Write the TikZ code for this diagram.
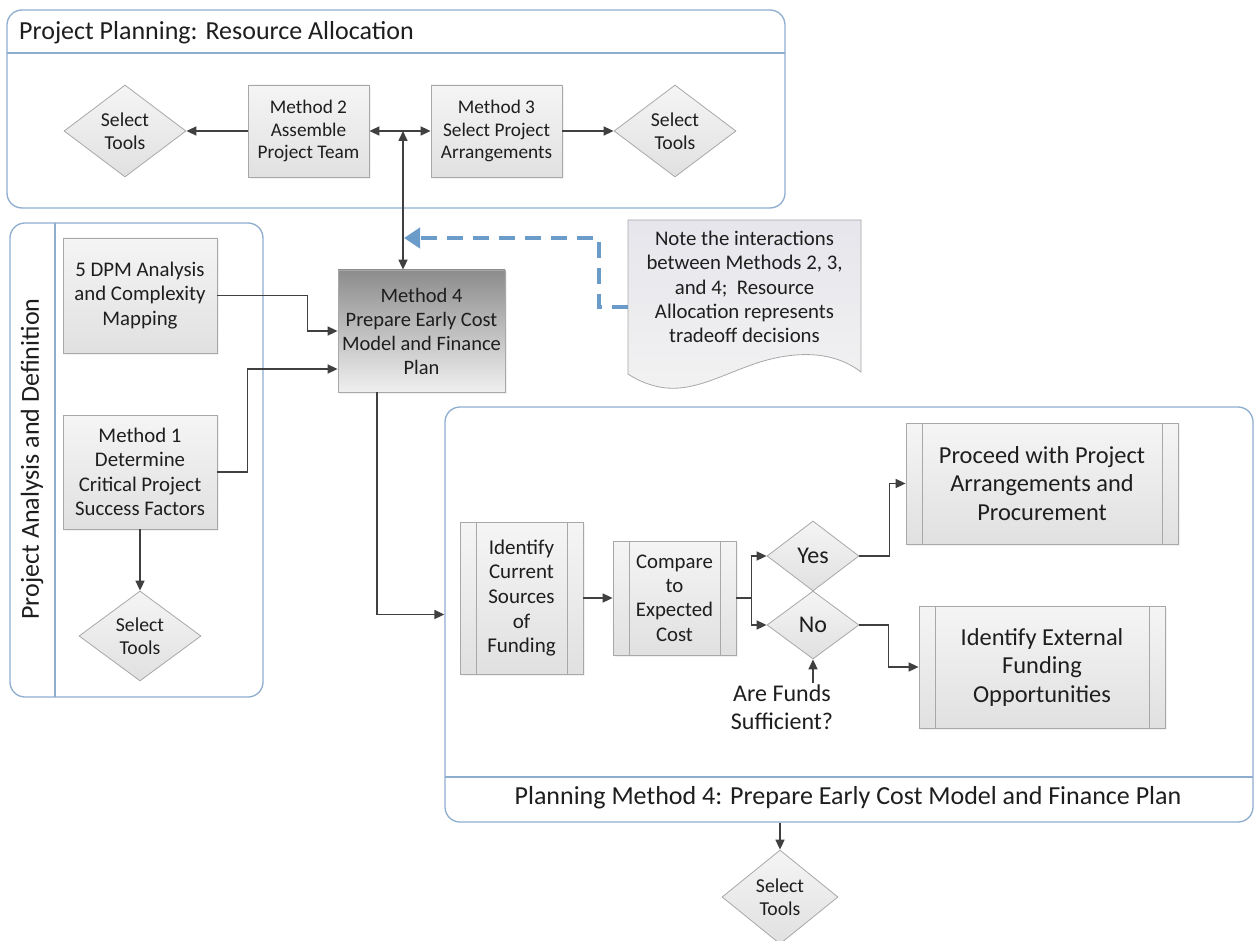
\documentclass[tikz,border=0pt]{standalone}
\usepackage{fontspec}
\setmainfont{Carlito}
\usetikzlibrary{shapes.geometric,arrows.meta,shadows,calc}
\definecolor{framec}{HTML}{8EAED0}
\definecolor{conn}{HTML}{404040}
\definecolor{boxline}{HTML}{A8A8A8}
\definecolor{dashblue}{HTML}{6B9BC8}
\definecolor{txt}{HTML}{1E1E1E}
\begin{document}
\begin{tikzpicture}[x=1pt,y=-1pt,
  every node/.style={text=txt},
  cont/.style={draw=framec, line width=1.3pt, rounded corners=15pt, inner sep=0pt},
  divline/.style={draw=framec, line width=1.1pt},
  ttl/.style={font=\fontsize{26}{30}\selectfont},
  box/.style={draw=boxline, line width=0.8pt, top color=white!96!black, bottom color=white!88!black,
    align=center, inner sep=2pt,
    drop shadow={shadow xshift=2pt,shadow yshift=-2pt,fill=black!10}},
  pproc/.style={box, path picture={
    \draw[boxline,line width=0.8pt] ([xshift=16pt]path picture bounding box.north west) -- ([xshift=16pt]path picture bounding box.south west);
    \draw[boxline,line width=0.8pt] ([xshift=-16pt]path picture bounding box.north east) -- ([xshift=-16pt]path picture bounding box.south east);}},
  dmd/.style={diamond, aspect=1.33, draw=boxline, line width=0.8pt, top color=white!96!black, bottom color=white!88!black,
    align=center, inner sep=0pt, font=\fontsize{19.7}{23}\selectfont},
  arr/.style={draw=conn, line width=1.6pt, -{Triangle[length=10pt,width=9pt]}},
  dbl/.style={draw=conn, line width=1.6pt, {Triangle[length=10pt,width=9pt]}-{Triangle[length=10pt,width=9pt]}},
  dsh/.style={draw=dashblue, line width=4.5pt, dash pattern=on 16pt off 10pt, -{Triangle[length=16pt,width=20pt]}},
]
\fill[white] (0,0) rectangle (1255,941);
\useasboundingbox (0,0) rectangle (1255,941);

% containers
\node[cont, minimum width=778pt, minimum height=198pt] (topc) at (396,109) {};
\draw[divline] (7,53) -- (785,53);
\node[ttl, anchor=west, inner sep=0pt] (toptitle) at (19,33) {Project Planning: Resource Allocation};

\node[cont, minimum width=253pt, minimum height=474pt] (leftc) at (136.5,460) {};
\draw[divline] (55,223) -- (55,697);
\node[ttl, rotate=90] (lefttitle) at (32,459) {Project Analysis and Definition};

\node[cont, minimum width=808pt, minimum height=415pt] (botc) at (849,614.5) {};
\draw[divline] (445,777) -- (1253,777);
\node[ttl] (bottitle) at (848,798) {Planning Method 4: Prepare Early Cost Model and Finance Plan};

% top row
\node[dmd, minimum width=122pt, minimum height=92pt] (selL) at (125,131) {Select\\Tools};
\node[box, minimum width=121pt, minimum height=92pt, font=\fontsize{19.3}{22.5}\selectfont] (m2) at (308.5,131) {Method 2\\Assemble\\Project Team};
\node[box, minimum width=131pt, minimum height=92pt, font=\fontsize{19.3}{22.5}\selectfont] (m3) at (496.5,131) {Method 3\\Select Project\\Arrangements};
\node[dmd, minimum width=122pt, minimum height=92pt] (selR) at (675,131) {Select\\Tools};

% left column
\node[box, minimum width=154pt, minimum height=115pt, font=\fontsize{20.8}{24.3}\selectfont] (dpm) at (140,295.5) {5 DPM Analysis\\and Complexity\\Mapping};
\node[box, minimum width=154pt, minimum height=114pt, font=\fontsize{20.8}{24.3}\selectfont] (m1) at (140,472) {Method 1\\Determine\\Critical Project\\Success Factors};
\node[dmd, minimum width=122pt, minimum height=90pt] (selM1) at (140,636) {Select\\Tools};

% method 4
\node[draw=boxline, line width=0.8pt, top color=black!45, bottom color=black!6, align=center,
  minimum width=167pt, minimum height=122pt, font=\fontsize{20.5}{24}\selectfont,
  drop shadow={shadow xshift=2pt,shadow yshift=-2pt,fill=black!10}] (m4) at (421.5,331) {Method 4\\Prepare Early Cost\\Model and Finance\\Plan};

% note
\path[draw=boxline, line width=0.8pt, top color=blue!25!black!10, bottom color=white!95!black]
  (628,220) -- (861,220) -- (861,372)
  .. controls (835,352) and (800,350) .. (760,362)
  .. controls (720,375) and (690,395) .. (655,386)
  .. controls (643,383) and (634,378) .. (628,374) -- cycle;
\node[align=center, minimum width=233pt, font=\fontsize{20.8}{24.3}\selectfont] (note) at (744.5,287)
  {Note the interactions\\between Methods 2, 3,\\and 4;\ \ Resource\\Allocation represents\\tradeoff decisions};

% bottom flow
\node[pproc, minimum width=123pt, minimum height=152pt, font=\fontsize{21}{24.7}\selectfont] (idc) at (521.5,598) {Identify\\Current\\Sources\\of\\Funding};
\node[pproc, minimum width=123pt, minimum height=114pt, font=\fontsize{20.8}{24.3}\selectfont] (cmp) at (674.5,598) {Compare\\to\\Expected\\Cost};
\node[dmd, minimum width=92pt, minimum height=70pt, font=\fontsize{24}{28}\selectfont] (yes) at (813,556) {Yes};
\node[dmd, minimum width=92pt, minimum height=68pt, font=\fontsize{24}{28}\selectfont] (no) at (813,625) {No};
\node[pproc, minimum width=272pt, minimum height=121pt, font=\fontsize{24.4}{28.5}\selectfont] (proc) at (1042,483.5) {Proceed with Project\\Arrangements and\\Procurement};
\node[pproc, minimum width=246pt, minimum height=122pt, font=\fontsize{24.4}{28.5}\selectfont] (ext) at (1042,667) {Identify External\\Funding\\Opportunities};
\node[align=center, font=\fontsize{24}{28}\selectfont, inner sep=1pt] (funds) at (782,707) {Are Funds\\Sufficient?};
\node[dmd, minimum width=116pt, minimum height=94pt] (selB) at (780,897) {Select\\Tools};

% connectors
\coordinate (j) at (403,131);
\coordinate (dtip) at (404,238);
\draw[arr] (m2) -- (selL);
\draw[dbl] (m2) -- (m3);
\draw[arr] (m3) -- (selR);
\draw[dbl] (j) -- (j |- m4.north);
\draw[arr] (dpm.east) -- ++(90,0) |- (m4.west);
\draw[arr] (m1.east) -- ++(30,0) |- ([yshift=-38pt]m4.west);
\draw[arr] (m1) -- (selM1);
\draw[arr] ([xshift=-44.5pt]m4.south) |- (botc.west);
\draw[arr] (idc) -- (cmp);
\draw[arr] (cmp.east) -- ++(15,0) |- (yes.west);
\draw[arr] (cmp.east) -- ++(15,0) |- (no.west);
\draw[arr] (yes.east) -- ++(30,0) |- (proc.west);
\draw[arr] (no.east) -- ++(29,0) |- (ext.west);
\draw[arr] (funds.north -| no.south) -- (no.south);
\draw[arr] (botc.south -| selB.north) -- (selB.north);
\draw[dsh] ([yshift=-20pt]note.west) -- ++(-29,0) |- (dtip);
\end{tikzpicture}
\end{document}
